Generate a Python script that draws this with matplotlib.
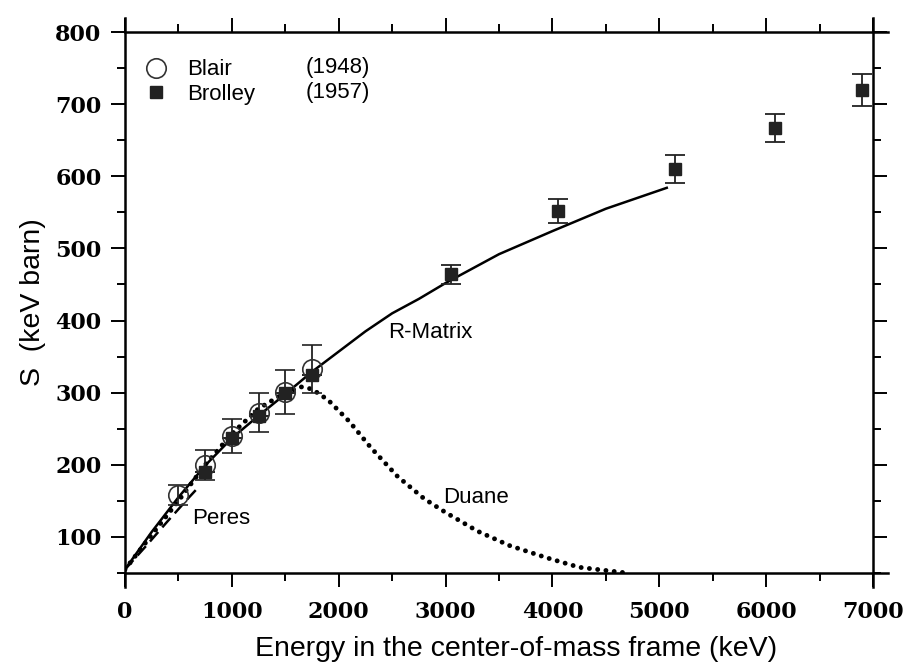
import matplotlib
matplotlib.use("Agg")
import matplotlib.pyplot as plt
from matplotlib.ticker import MultipleLocator

# Blair (1948), open circles
blair_e = [500, 750, 1000, 1250, 1500, 1750]
blair_s = [158, 200, 240, 272, 301, 333]
blair_err = [14, 21, 24, 27, 30, 33]

# Brolley (1957), filled squares
brolley_e = [750, 1000, 1250, 1500, 1750, 3050, 4050, 5150, 6080, 6900]
brolley_s = [190, 237, 267, 299, 325, 464, 552, 610, 667, 720]
brolley_err = [0, 0, 0, 0, 0, 13, 17, 19, 20, 22]

# curves
rmatrix_e = [0, 250, 500, 750, 1000, 1250, 1500, 1750, 2000, 2250, 2500, 2750, 3000, 3500, 4000, 4500, 5070]
rmatrix_s = [55, 107, 155, 199, 237, 268, 298, 329, 357, 385, 410, 430, 452, 492, 524, 555, 584]

duane_e = [0, 250, 500, 750, 1000, 1250, 1500, 1650, 1750, 1900, 2100, 2300, 2550, 2800, 3000, 3300, 3600, 3950, 4250, 4700]
duane_s = [55, 103, 150, 200, 243, 278, 300, 308, 305, 290, 260, 224, 184, 153, 134, 108, 88, 71, 58, 50]

peres_e = [0, 200, 400, 600, 700]
peres_s = [55, 88, 122, 155, 171]

sans = ['Liberation Sans', 'DejaVu Sans']
serif = ['DejaVu Serif']

fig = plt.figure(figsize=(9.09, 6.71), dpi=100)
ax = fig.add_axes([0.1375, 0.146, 0.8229, 0.8063])

ax.plot(rmatrix_e, rmatrix_s, color='black', lw=1.8)
ax.plot(duane_e, duane_s, color='black', lw=3.5, linestyle=(0, (0.01, 1.7)),
        dash_capstyle='round')
ax.plot(peres_e, peres_s, color='black', lw=1.8, linestyle=(0, (5, 2.5)))

ax.errorbar(blair_e, blair_s, yerr=blair_err, fmt='o', mfc='none', mec='#333333',
            mew=1.2, ms=14, ecolor='#222222', elinewidth=1.3, capsize=7,
            capthick=1.3, label='Blair')
ax.errorbar(brolley_e, brolley_s, yerr=brolley_err, fmt='s', mfc='#222222',
            mec='#222222', ms=9, ecolor='#222222', elinewidth=1.3, capsize=7,
            capthick=1.3, label='Brolley')

ax.text(2460, 384, 'R-Matrix', family=sans, fontsize=16, va='center')
ax.text(2975, 155, 'Duane', family=sans, fontsize=16, va='center')
ax.text(630, 126, 'Peres', family=sans, fontsize=16, va='center')

handles, labels = ax.get_legend_handles_labels()
leg = ax.legend([h[0] for h in handles], labels, loc='upper left',
                bbox_to_anchor=(0.0, 0.978), frameon=False, handletextpad=0.7,
                labelspacing=0.15, prop={'family': sans, 'size': 16},
                handlelength=1.4, borderaxespad=0.3)
ax.text(0.241, 0.9335, '(1948)', transform=ax.transAxes, family=sans, fontsize=16, va='center')
ax.text(0.241, 0.889, '(1957)', transform=ax.transAxes, family=sans, fontsize=16, va='center')

ax.set_xlim(0, 7000)
ax.set_ylim(50, 800)
ax.xaxis.set_major_locator(MultipleLocator(1000))
ax.xaxis.set_minor_locator(MultipleLocator(500))
ax.yaxis.set_minor_locator(MultipleLocator(50))
ax.set_yticks(range(100, 801, 100))
ax.tick_params(which='both', direction='out', top=True, right=True, width=1.4,
               labelsize=16)
ax.tick_params(which='major', length=10)
ax.tick_params(which='minor', length=6)
ax.tick_params(axis='x', pad=10)
ax.tick_params(axis='y', pad=7)
for lab in ax.get_xticklabels() + ax.get_yticklabels():
    lab.set_family(serif)
    lab.set_fontweight('bold')
for sp in ax.spines.values():
    sp.set_linewidth(1.8)
# axis lines run a little past the frame corners, as in the original
ax.spines['left'].set_bounds(30, 820)
ax.spines['right'].set_bounds(30, 820)
ax.spines['bottom'].set_bounds(0, 7140)
ax.spines['top'].set_bounds(0, 7140)

ax.set_xlabel('Energy in the center-of-mass frame (keV)', family=sans, fontsize=20.5)
ax.xaxis.set_label_coords(0.523, -0.117)
ax.set_ylabel('S  (keV barn)', family=sans, fontsize=20.5)
ax.yaxis.set_label_coords(-0.106, 0.5)

fig.savefig('out.png', dpi=100)
